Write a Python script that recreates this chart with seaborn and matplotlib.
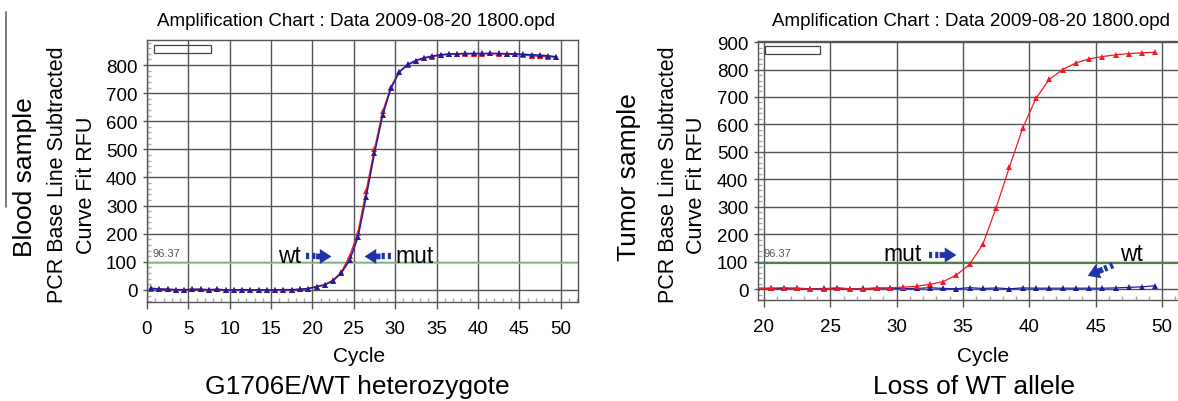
import matplotlib
matplotlib.use("Agg")
import matplotlib.pyplot as plt
from matplotlib.lines import Line2D
from matplotlib.patches import Rectangle
from matplotlib.ticker import MultipleLocator
import numpy as np
import pandas as pd
import seaborn as sns

# ---- data ----
BLOOD_CYCLES = np.arange(0.5, 50.0, 1.0)
BLOOD_WT = [6, 3, 2, 1, 1, 2, 2, 1, 2, 0,
            0, 1, 0, 0, 0, 0, 1, 1, 2, 5,
            11, 18, 33, 60, 106, 187, 332, 486, 623, 718,
            775, 802, 816, 826, 832, 837, 839, 840, 841, 841,
            841, 841, 841, 840, 840, 838, 837, 835, 833, 829]
BLOOD_MUT = [4, 3, 2, 0, -1, 2, 2, -1, 2, 0,
             0, 1, 0, 0, 0, 0, 1, 0, 2, 5,
             12, 19, 35, 63, 120, 203, 352, 500, 635, 722,
             776, 800, 815, 824, 830, 835, 838, 839, 840, 840,
             840, 841, 840, 839, 838, 836, 833, 831, 829, 828]

TUMOR_CYCLES = np.arange(19.5, 50.0, 1.0)
TUMOR_MUT = [2, 3, 5, 2, 0, 0, 5, 1, 0, 4,
             4, 7, 10, 17, 27, 51, 90, 164, 297, 445,
             587, 695, 764, 800, 824, 839, 847, 854, 858, 861,
             863]
TUMOR_WT = [3, 2, 2, 3, 1, 2, 2, 1, 2, 3,
            3, 2, 2, 5, 2, 1, 5, 2, 4, 1,
            4, 3, 3, 3, 3, 3, 3, 4, 6, 8,
            12]

THRESHOLD = 96.37
TITLE = "Amplification Chart : Data 2009-08-20 1800.opd"
Y_LINE1 = "PCR Base Line Subtracted"
Y_LINE2 = "Curve Fit RFU"

RED = "#ee1c24"
BLUE = "#1f1f9e"
ARROW = "#2233a8"
GRID = "#555555"


def to_long(cycles, mut, wt):
    return pd.concat([
        pd.DataFrame({"cycle": cycles, "rfu": mut, "allele": "mut"}),
        pd.DataFrame({"cycle": cycles, "rfu": wt, "allele": "wt"}),
    ], ignore_index=True)


def style_axes(ax, xlim, ylim, ymax_tick):
    ax.set_xlim(*xlim)
    ax.set_ylim(*ylim)
    ax.xaxis.set_major_locator(MultipleLocator(5))
    ax.xaxis.set_minor_locator(MultipleLocator(1))
    ax.yaxis.set_minor_locator(MultipleLocator(20))
    ax.set_yticks(np.arange(0, ymax_tick + 1, 100))
    ax.grid(True, which="major", color=GRID, lw=1.0)
    ax.set_axisbelow(True)
    ax.tick_params(axis="both", which="major", labelsize=13.5, labelcolor="black")
    ax.tick_params(axis="x", which="major", direction="out", length=5, width=1,
                   color=GRID, pad=8, bottom=True)
    ax.tick_params(axis="y", which="major", direction="out", length=3, width=1,
                   color=GRID, pad=4, left=True)
    ax.tick_params(axis="x", which="minor", direction="in", length=3,
                   color="#aaaaaa", bottom=True)
    ax.tick_params(axis="y", which="minor", direction="in", length=3,
                   color="#aaaaaa", left=True)
    for s in ax.spines.values():
        s.set_color(GRID)
        s.set_linewidth(1.0)
    ax.set_xlabel("")
    ax.set_ylabel("")
    # empty legend box of the instrument software
    ax.add_patch(Rectangle((0.016, 0.95), 0.132, 0.031, transform=ax.transAxes,
                           fill=False, edgecolor="#444444", lw=0.9))
    ax.text(0.012, THRESHOLD + 18, "96.37", transform=ax.get_yaxis_transform(),
            fontsize=8, color="#555555", ha="left", va="bottom")


def arrow(ax, start, end):
    # dotted tail followed by a solid head, as drawn in the figure
    mid = (start[0] + 0.4 * (end[0] - start[0]), start[1] + 0.4 * (end[1] - start[1]))
    ax.plot([start[0], mid[0]], [start[1], mid[1]], color=ARROW, lw=4.5,
            linestyle=(0, (0.5, 0.5)), solid_capstyle="butt", zorder=4)
    ax.annotate("", xy=end, xytext=mid,
                arrowprops=dict(arrowstyle="simple,head_width=0.9,head_length=0.7,tail_width=0.35",
                                color=ARROW, lw=0, shrinkA=0, shrinkB=0))


def main() -> None:
    sns.set_theme(style="white")
    plt.rcParams["font.family"] = ["Liberation Sans", "DejaVu Sans"]
    plt.rcParams["text.color"] = "black"

    fig = plt.figure(figsize=(11.78, 4.02), dpi=100)
    ax1 = fig.add_axes([147 / 1178, 1 - 303 / 402, 431 / 1178, 262 / 402])
    ax2 = fig.add_axes([758 / 1178, 1 - 301 / 402, 420 / 1178, 259 / 402])

    palette = {"mut": RED, "wt": BLUE}

    # ---- blood sample ----
    df1 = to_long(BLOOD_CYCLES, BLOOD_MUT, BLOOD_WT)
    sns.lineplot(data=df1, x="cycle", y="rfu", hue="allele", hue_order=["mut", "wt"],
                 palette=palette, marker="^", markersize=4.5, markeredgewidth=0,
                 linewidth=1.1, legend=False, ax=ax1)
    ax1.axhline(THRESHOLD, color="#8fd08f", lw=1.1, zorder=1.5)
    style_axes(ax1, (0, 52.1), (-43, 889), 800)
    ax1.text(18.6, 121, "wt", fontsize=16.5, ha="right", va="center")
    arrow(ax1, (19.2, 119), (22.3, 119))
    arrow(ax1, (29.5, 119), (26.3, 119))
    ax1.text(30.0, 121, "mut", fontsize=16.5, ha="left", va="center")

    # ---- tumor sample ----
    df2 = to_long(TUMOR_CYCLES, TUMOR_MUT, TUMOR_WT)
    sns.lineplot(data=df2, x="cycle", y="rfu", hue="allele", hue_order=["wt", "mut"],
                 palette=palette, marker="^", markersize=4.5, markeredgewidth=0,
                 linewidth=0.9, legend=False, ax=ax2)
    ax2.axhline(THRESHOLD, color="#4f7f4f", lw=1.6, zorder=1.5)
    style_axes(ax2, (19.55, 51.2), (-40, 904), 900)
    ax2.spines["right"].set_visible(False)
    ax2.text(31.9, 130, "mut", fontsize=16.5, ha="right", va="center")
    arrow(ax2, (32.4, 124), (34.5, 124))
    ax2.text(46.8, 128, "wt", fontsize=16.5, ha="left", va="center")
    arrow(ax2, (46.3, 87), (44.4, 48))

    # ---- surrounding texts ----
    W, H = 1178, 402
    for cx, title in [(356, TITLE), (971, TITLE)]:
        fig.text(cx / W, 1 - 21 / H, title, fontsize=13.5, ha="center", va="center")
    fig.text(359 / W, 1 - 357 / H, "Cycle", fontsize=15, ha="center", va="center")
    fig.text(983 / W, 1 - 357 / H, "Cycle", fontsize=15, ha="center", va="center")
    fig.text(357 / W, 1 - 387 / H, "G1706E/WT heterozygote", fontsize=19,
             ha="center", va="center")
    fig.text(974 / W, 1 - 387 / H, "Loss of WT allele", fontsize=19,
             ha="center", va="center")

    for x1, x2, x3, label in [(25, 58, 87, "Blood sample"), (629, 668, 697, "Tumor sample")]:
        fig.text(x1 / W, 1 - 177 / H, label, fontsize=19, rotation=90,
                 ha="center", va="center")
        fig.text(x2 / W, 1 - 175 / H, Y_LINE1, fontsize=15.5, rotation=90,
                 ha="center", va="center")
        fig.text(x3 / W, 1 - 185 / H, Y_LINE2, fontsize=15.5, rotation=90,
                 ha="center", va="center")

    # thin rule at the left edge of the original figure
    fig.add_artist(Line2D([6 / W, 6 / W], [1 - 13 / H, 1 - 208 / H],
                          transform=fig.transFigure, color="#666666", lw=1.2))

    fig.savefig("out.png", dpi=100)


if __name__ == "__main__":
    main()
